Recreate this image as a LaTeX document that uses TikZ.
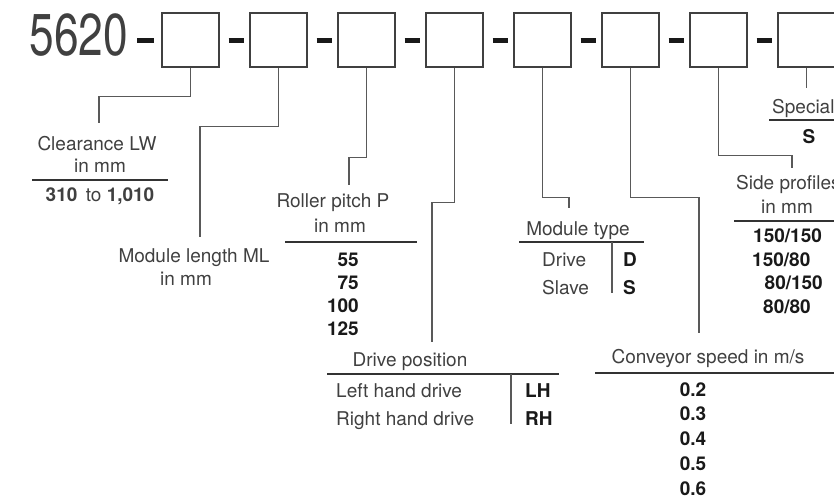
\documentclass[tikz,border=0pt]{standalone}
\usepackage{fontspec}
\setmainfont{TeX Gyre Heros}
\usetikzlibrary{calc, positioning}

\begin{document}
\begin{tikzpicture}[x=1pt, y=-1pt,
		codebox/.style={draw=black!75, line width=1.2pt, minimum width=57pt, minimum height=54pt, inner sep=0pt},
		sepdash/.style={line width=5pt, black!90},
		lead/.style={black!65, line width=1.1pt},
		rule/.style={black!80, line width=1.2pt},
		txt/.style={font=\fontsize{19}{21}\selectfont, text=black!75, inner sep=0pt, anchor=base},
		val/.style={txt, font=\fontsize{19}{21}\selectfont\bfseries, text=black!90}]
		\useasboundingbox (0,0) rectangle (834,499);
		\clip (0,0) rectangle (834,499);

		\node[txt, anchor=base east, font=\fontsize{59}{59}\selectfont, xscale=0.75] (code) at (128,55) {5620};
		\foreach \i in {1,...,8}
			\node[codebox] (b\i) at ({190.5+88*(\i-1)},40) {};
		\draw[sepdash] ([xshift=-24pt]b1.west) -- ([xshift=-7pt]b1.west);
		\foreach \i [count=\j from 2] in {1,...,7}
			\draw[sepdash] ([xshift=9pt]b\i.east) -- ([xshift=-5pt]b\j.west);

		\coordinate (e1) at (99,123);
		\coordinate (e2) at (200,237);
		\coordinate (e3) at (349,185);
		\coordinate (e4) at (432,342);
		\coordinate (e5) at (569,208);
		\coordinate (e6) at (699,333);
		\coordinate (e7) at (792,168);
		\coordinate (e8) at (806.5,88);
		\draw[lead] (b1.south) -- ++(0,29) -| (e1);
		\draw[lead] (b2.south) -- ++(0,59) -| (e2);
		\draw[lead] (b3.south) -- ++(0,90) -| (e3);
		\draw[lead] (b4.south) -- ++(0,135) -| (e4);
		\draw[lead] (b5.south) -- ++(0,130) -| (e5);
		\draw[lead] (b6.south) -- ++(0,130) -| (e6);
		\draw[lead] (b7.south) -- ++(0,88) -| (e7);
		\draw[lead] (b8.south) -- (e8);

		\node[txt] (clear) at (97,150) {Clearance LW};
		\node[txt] (clearmm) at (100,172) {in mm};
		\draw[rule] (32,180) -- (168,180);
		\node[txt] (clearval) at (100,201) {\textbf{310}\,\ to \textbf{1,010}};

		\node[txt] (mlen) at (194,262) {Module length ML};
		\node[txt] (mlenmm) at (186,285) {in mm};

		\node[txt] (pitch) at (333,207) {Roller pitch P};
		\node[txt] (pitchmm) at (340,232) {in mm};
		\draw[rule] (285,242) -- (417,242);
		\foreach \v [count=\k from 0] in {55,75,100,125}
			\node[val, anchor=base east] (pitch\v) at (359,{266+23*\k}) {\v};

		\node[txt] (dpos) at (410,366) {Drive position};
		\draw[rule] (327,374) -- (559,374);
		\draw[lead] (511,374) -- (511,424);
		\node[txt, anchor=base west] (lhd) at (336,397) {Left hand drive};
		\node[txt, anchor=base west] (rhd) at (336,425) {Right hand drive};
		\node[val, anchor=base west] (lh) at (525,397) {LH};
		\node[val, anchor=base west] (rh) at (525,425) {RH};

		\node[txt] (mtype) at (578,235) {Module type};
		\draw[rule] (519,242) -- (644,242);
		\draw[lead] (612,242) -- (612,293);
		\node[txt, anchor=base west] (drive) at (542,266) {Drive};
		\node[txt, anchor=base west] (slave) at (542,294) {Slave};
		\node[val, anchor=base west] (dd) at (623,266) {D};
		\node[val, anchor=base west] (ss) at (623,294) {S};

		\node[txt] (speed) at (708,363) {Conveyor speed in m/s};
		\draw[rule] (595,373) -- (834,373);
		\foreach \v [count=\k from 0] in {0.2,0.3,0.4,0.5,0.6}
			\node[val] at (693,{396+24.8*\k}) {\v};

		\node[txt, anchor=base west] (side) at (736,189) {Side profiles};
		\node[txt] (sidemm) at (787,213) {in mm};
		\draw[rule] (734,221) -- (834,221);
		\node[val, anchor=base west] (p1) at (753,242) {150/150};
		\node[val, anchor=base west] (p2) at (752,266) {150/80};
		\node[val, anchor=base east] (p3) at (823,289) {80/150};
		\node[val, anchor=base west] (p4) at (763,313) {80/80};

		\node[txt, anchor=base west] (spec) at (772,113) {Special};
		\draw[rule] (769,120) -- (834,120);
		\node[val] (specs) at (809,143) {S};
	\end{tikzpicture}
\end{document}
